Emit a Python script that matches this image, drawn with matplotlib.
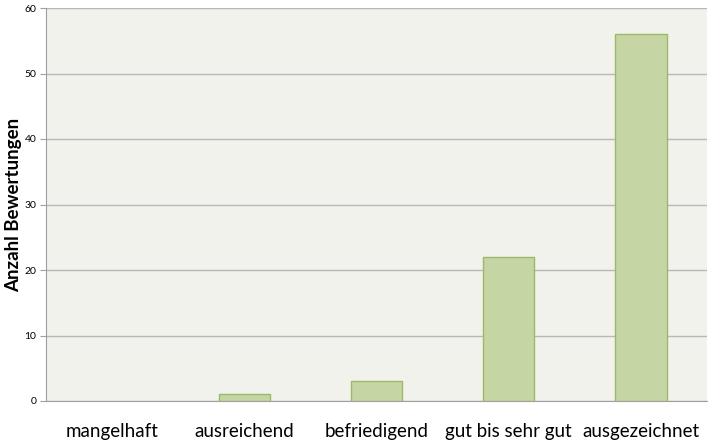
import matplotlib
matplotlib.use('Agg')
import matplotlib.pyplot as plt

categories = ['mangelhaft', 'ausreichend', 'befriedigend', 'gut bis sehr gut', 'ausgezeichnet']
counts = [0, 1, 3, 22, 56]
y_ticks = [0, 10, 20, 30, 40, 50, 60]

plt.rcParams['font.family'] = ['Lato', 'DejaVu Sans']

fig = plt.figure(figsize=(7.14, 4.41), dpi=100)
ax = fig.add_axes([46 / 714, 40 / 441, 661 / 714, 393 / 441])
ax.set_facecolor('#F1F2EC')

x = range(len(categories))
bars = ax.bar(x, counts, width=0.39, color='#C5D6A4', edgecolor='#9DB86A', linewidth=1, zorder=3)
# empty categories show no outline in the original
for b, c in zip(bars, counts):
    if c == 0:
        b.set_visible(False)

ax.set_xlim(-0.5, len(categories) - 0.5)
ax.set_ylim(0, 60)
ax.set_yticks(y_ticks)
ax.set_yticklabels([str(t) for t in y_ticks], fontsize=7.5)
ax.set_xticks(list(x))
ax.set_xticklabels(categories, fontsize=13.5)
ax.tick_params(axis='x', length=0, pad=16)
ax.tick_params(axis='y', length=4, color='#A0A0A0', pad=3)

ax.grid(axis='y', color='#B8B8B8', linewidth=1, zorder=0)
for side in ['top', 'right']:
    ax.spines[side].set_visible(False)
ax.spines['left'].set_color('#A0A0A0')
ax.spines['bottom'].set_color('#A0A0A0')

fig.text(14 / 714, 1 - 205 / 441, 'Anzahl Bewertungen', fontsize=13.5, fontweight='bold',
         rotation=90, ha='center', va='center')

fig.savefig('out.png', dpi=100, facecolor='white')
